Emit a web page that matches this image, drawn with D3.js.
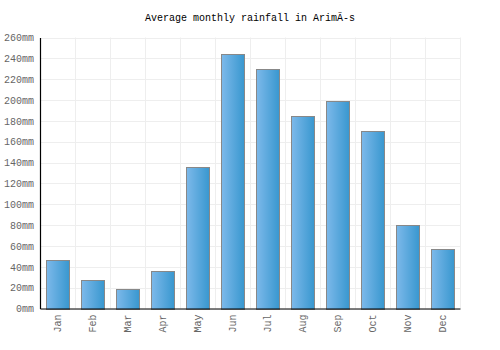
<!DOCTYPE html>
<html><head><meta charset="utf-8">
<script src="https://cdn.jsdelivr.net/npm/d3@7"></script>
<style>body{margin:0;background:#fff}svg{display:block}</style>
</head><body>
<svg id="c" width="500" height="350"></svg>
<script>
const months = ["Jan","Feb","Mar","Apr","May","Jun","Jul","Aug","Sep","Oct","Nov","Dec"];
const rainfall = [47,27,19,36,136,244,230,185,199,170,80,57];
const yTicks = [0,20,40,60,80,100,120,140,160,180,200,220,240,260];
const title = "Average monthly rainfall in ArimÃ-s";

(function(){
const svg = d3.select("#c");
const mL = 40, mR = 460, mT = 37.5, mB = 308.5;
const x = d3.scaleBand().domain(months).range([mL, mR]).paddingInner(0.34).paddingOuter(0.17);
const xb = d3.scaleBand().domain(months).range([mL, mR]);
const y = d3.scaleLinear().domain([0, 260]).range([mB, mT]);
const font = "'Liberation Mono', monospace";

const defs = svg.append("defs");
const g = defs.append("linearGradient").attr("id","bg").attr("x1","0").attr("x2","1").attr("y1","0").attr("y2","0");
g.append("stop").attr("offset","0").attr("stop-color","#7db9ea");
g.append("stop").attr("offset","1").attr("stop-color","#3897cf");

// grid
svg.append("g").selectAll("line").data(yTicks).join("line")
  .attr("x1", mL).attr("x2", mR).attr("y1", d => Math.round(y(d))+0.5).attr("y2", d => Math.round(y(d))+0.5)
  .attr("stroke", "#eeeeee").attr("stroke-width", 1);
svg.append("g").selectAll("line").data(months).join("line")
  .attr("x1", d => Math.round(xb(d) + xb.bandwidth())+0.5)
  .attr("x2", d => Math.round(xb(d) + xb.bandwidth())+0.5)
  .attr("y1", mT).attr("y2", mB)
  .attr("stroke", "#eeeeee").attr("stroke-width", 1);

// bars
svg.append("g").selectAll("rect").data(months).join("rect")
  .attr("x", d => Math.round(x(d))+0.5)
  .attr("width", Math.round(x.bandwidth()))
  .attr("y", (d,i) => Math.round(y(rainfall[i]))+0.5)
  .attr("height", (d,i) => Math.round(y(0)) - Math.round(y(rainfall[i])))
  .attr("fill", "url(#bg)").attr("stroke", "#888").attr("stroke-width", 1);

// axes
const ya = svg.append("g").attr("transform", `translate(${mL},0)`)
  .call(d3.axisLeft(y).tickValues(yTicks).tickSize(0).tickPadding(6).tickFormat(d => d + "mm"));
ya.select(".domain").attr("stroke", "#000").attr("stroke-width", 1.2);
ya.selectAll("text").attr("font-family", font).attr("font-size", "10px").attr("fill", "#666");

const xa = svg.append("g").attr("transform", `translate(0,${mB})`)
  .call(d3.axisBottom(xb).tickSize(0).tickPadding(6));
xa.select(".domain").attr("stroke", "#000").attr("stroke-width", 1.2);
xa.selectAll("text").attr("font-family", font).attr("font-size", "10px").attr("fill", "#666")
  .attr("transform", "rotate(-90)").attr("text-anchor", "end").attr("dx", "-6").attr("dy", "0.35em").attr("y", 0).attr("x", 0);

svg.append("text").attr("x", 250).attr("y", 21).attr("text-anchor", "middle")
  .attr("font-family", font).attr("font-size", "10px").attr("fill", "#000").text(title);
})();
</script>
</body></html>
